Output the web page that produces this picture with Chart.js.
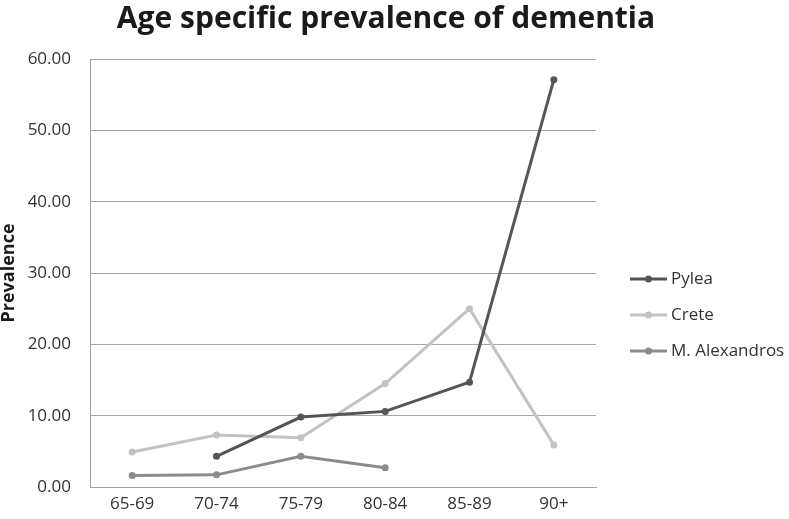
<!DOCTYPE html>
<html>
<head>
<meta charset="utf-8">
<script src="https://cdn.jsdelivr.net/npm/chart.js@4/dist/chart.umd.min.js"></script>
<style>
  html, body { margin: 0; padding: 0; background: #fff; }
  #wrap { width: 789px; height: 519px; position: relative; }
</style>
</head>
<body>
<div id="wrap"><canvas id="chart"></canvas></div>
<script>
// age groups and prevalence per study site
const ageGroups = ['65-69', '70-74', '75-79', '80-84', '85-89', '90+'];
const pylea = [null, 4.3, 9.8, 10.6, 14.7, 57.1];
const crete = [4.9, 7.3, 6.9, 14.5, 25.0, 5.9];
const alexandros = [1.6, 1.7, 4.3, 2.7, null, null];
const yTicks = [0, 10, 20, 30, 40, 50, 60];

const seriesNames = ['Pylea', 'Crete', 'M. Alexandros'];
const seriesColors = ['#555555', '#c3c3c3', '#8c8c8c'];
const titleText = 'Age specific prevalence of dementia';

const fontFamily = '"Open Sans", sans-serif';

function makeSet(i, values) {
    return {
        label: seriesNames[i],
        data: values,
        borderColor: seriesColors[i],
        backgroundColor: seriesColors[i],
        borderWidth: 3,
        pointRadius: 3.5,
        pointHoverRadius: 3.5,
        pointBorderWidth: 0,
        tension: 0,
        spanGaps: false
    };
}

// title centred on the whole picture + legend drawn like the office one
const decorations = {
    id: 'decorations',
    afterDraw(chart) {
        const ctx = chart.ctx;
        ctx.save();
        ctx.fillStyle = '#1a1a1a';
        ctx.font = 'bold 30px ' + fontFamily;
        ctx.textAlign = 'center';
        ctx.textBaseline = 'alphabetic';
        ctx.fillText(titleText, 386, 28);

        const x0 = 630, x1 = 667, tx = 671;
        const rows = [279, 315, 351];
        ctx.textAlign = 'left';
        chart.data.datasets.forEach((ds, i) => {
            const y = rows[i];
            ctx.strokeStyle = ds.borderColor;
            ctx.lineWidth = 3;
            ctx.beginPath();
            ctx.moveTo(x0, y);
            ctx.lineTo(x1, y);
            ctx.stroke();
            ctx.fillStyle = ds.borderColor;
            ctx.beginPath();
            ctx.arc((x0 + x1) / 2, y, 3.5, 0, Math.PI * 2);
            ctx.fill();
            ctx.fillStyle = '#333';
            ctx.font = '17px ' + fontFamily;
            ctx.textBaseline = 'middle';
            ctx.fillText(ds.label, tx, y);
        });
        ctx.restore();
    }
};

new Chart(document.getElementById('chart'), {
    type: 'line',
    data: {
        labels: ageGroups,
        datasets: [makeSet(0, pylea), makeSet(1, crete), makeSet(2, alexandros)]
    },
    options: {
        responsive: true,
        maintainAspectRatio: false,
        animation: false,
        layout: { padding: { left: 0, right: 193, top: 59, bottom: 0 } },
        plugins: {
            legend: { display: false },
            tooltip: { enabled: false },
            title: { display: false }
        },
        scales: {
            x: {
                offset: true,
                grid: { display: false, drawTicks: false },
                border: { display: true, color: '#a0a0a0', width: 1 },
                ticks: { color: '#333', padding: 7, font: { family: fontFamily, size: 17 } },
                afterFit(scale) { scale.height = 32; }
            },
            y: {
                min: 0,
                max: 60,
                afterBuildTicks(scale) { scale.ticks = yTicks.map(v => ({ value: v })); },
                grid: { color: '#a6a6a6', lineWidth: 1, drawTicks: false },
                border: { display: true, color: '#a0a0a0', width: 1 },
                ticks: {
                    color: '#333',
                    padding: 19,
                    font: { family: fontFamily, size: 17 },
                    callback: v => Number(v).toFixed(2)
                },
                title: {
                    display: true,
                    text: 'Prevalence',
                    color: '#1a1a1a',
                    padding: { top: 0, bottom: 0 },
                    font: { family: fontFamily, size: 18, weight: 'bold', lineHeight: 1.0 }
                },
                afterFit(scale) { scale.width = 90; }
            }
        }
    },
    plugins: [decorations]
});
</script>
</body>
</html>
